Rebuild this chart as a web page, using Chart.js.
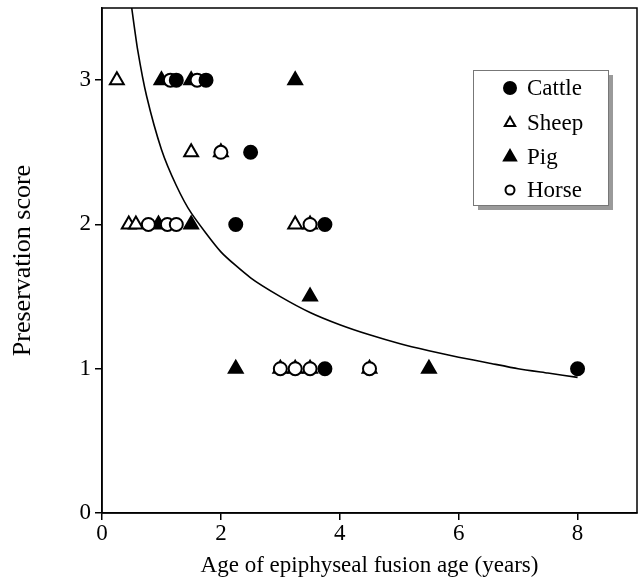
<!DOCTYPE html>
<html>
<head>
<meta charset="utf-8">
<script src="https://cdn.jsdelivr.net/npm/chart.js@4.4.0/dist/chart.umd.min.js"></script>
<style>
  html, body { margin: 0; padding: 0; background: #fff; }
  #wrap { width: 641px; height: 582px; }
</style>
</head>
<body>
<div id="wrap"><canvas id="fusionChart" width="641" height="582"></canvas></div>
<script>
// series (x = fusion age in years, y = preservation score)
const cattleX = [1.25, 1.75, 2.5, 2.25, 3.75, 3.75, 8];
const cattleY = [3, 3, 2.5, 2, 2, 1, 1];
const sheepX = [0.25, 1.5, 2, 0.45, 0.57, 3.25, 3.5, 3, 3.25, 3.5, 4.5];
const sheepY = [3, 2.5, 2.5, 2, 2, 2, 2, 1, 1, 1, 1];
const pigX = [1, 1.5, 3.25, 0.95, 1.5, 3.5, 2.25, 5.5];
const pigY = [3, 3, 3, 2, 2, 1.5, 1, 1];
const horseX = [1.15, 1.6, 2, 0.78, 1.1, 1.25, 3.5, 3, 3.25, 3.5, 4.5];
const horseY = [3, 3, 2.5, 2, 2, 2, 2, 1, 1, 1, 1];
// fitted curve
const fitX = [0.5, 0.6, 0.75, 1, 1.25, 1.5, 2, 2.5, 3, 3.5, 4, 4.5, 5, 5.5, 6, 6.5, 7, 7.5, 8];
const fitY = [3.5, 3.21, 2.89, 2.52, 2.27, 2.08, 1.81, 1.63, 1.5, 1.39, 1.305, 1.235, 1.175, 1.125, 1.08, 1.04, 1.0, 0.97, 0.94];
const xTicks = [0, 2, 4, 6, 8];
const yTicks = [0, 1, 2, 3];

const serif = "'Liberation Serif', 'DejaVu Serif', serif";

function toPoints(xs, ys) {
    return xs.map(function(x, i) { return { x: x, y: ys[i] }; });
}

const legendItems = [
    { label: 'Cattle', style: 'circle', radius: 6, fill: '#000' },
    { label: 'Sheep', style: 'triangle', radius: 6, fill: '#fff' },
    { label: 'Pig', style: 'triangle', radius: 7, fill: '#000' },
    { label: 'Horse', style: 'circle', radius: 4.5, fill: '#fff' }
];

// box around plot area + boxed legend with drop shadow
const framePlugin = {
    id: 'frame',
    afterDraw: function(chart) {
        const ctx = chart.ctx;
        const a = chart.chartArea;
        ctx.save();
        ctx.strokeStyle = '#000';
        ctx.lineWidth = 1.5;
        ctx.strokeRect(a.left, a.top, a.right - a.left, a.bottom - a.top);

        const bx = 473, by = 70, bw = 135, bh = 135;
        ctx.fillStyle = '#9a9a9a';
        ctx.fillRect(bx + 5, by + 5, bw, bh);
        ctx.fillStyle = '#fff';
        ctx.fillRect(bx, by, bw, bh);
        ctx.strokeStyle = '#777';
        ctx.lineWidth = 1;
        ctx.strokeRect(bx + 0.5, by + 0.5, bw, bh);

        ctx.font = '23px ' + serif;
        ctx.textBaseline = 'middle';
        ctx.textAlign = 'left';
        const rows = [88, 123, 157, 190];
        legendItems.forEach(function(item, i) {
            ctx.fillStyle = item.fill;
            ctx.strokeStyle = '#000';
            ctx.lineWidth = 2;
            Chart.helpers.drawPoint(ctx, {
                pointStyle: item.style,
                radius: item.radius,
                rotation: 0,
                borderWidth: 2
            }, 510, rows[i]);
            ctx.fillStyle = '#000';
            ctx.fillText(item.label, 527, rows[i] + 1);
        });
        ctx.restore();
    }
};

function scatterSet(label, xs, ys, style, fill, radius, order) {
    return {
        label: label,
        type: 'scatter',
        data: toPoints(xs, ys),
        pointStyle: style,
        pointRadius: radius,
        pointHoverRadius: radius,
        pointBackgroundColor: fill,
        pointBorderColor: '#000',
        pointBorderWidth: 2,
        order: order
    };
}

// keep Chart.js from reserving room for half tick labels at the ends
function noEdgePadding(scale) {
    scale.paddingTop = 0;
    scale.paddingBottom = 0;
    scale.paddingLeft = 0;
    scale.paddingRight = 0;
}

const ctx = document.getElementById('fusionChart').getContext('2d');
const chart = new Chart(ctx, {
    type: 'scatter',
    data: {
        datasets: [
            scatterSet('Cattle', cattleX, cattleY, 'circle', '#000', 6.5, 0),
            scatterSet('Horse', horseX, horseY, 'circle', '#fff', 6.5, 1),
            scatterSet('Pig', pigX, pigY, 'triangle', '#000', 8, 2),
            scatterSet('Sheep', sheepX, sheepY, 'triangle', '#fff', 8, 3),
            {
                label: 'Fit',
                type: 'line',
                data: toPoints(fitX, fitY),
                borderColor: '#000',
                borderWidth: 1.6,
                pointRadius: 0,
                fill: false,
                tension: 0.2,
                order: 4
            }
        ]
    },
    options: {
        responsive: false,
        animation: false,
        layout: { autoPadding: false, padding: { top: 8, right: 4, left: 0, bottom: 0 } },
        plugins: {
            legend: { display: false },
            tooltip: { enabled: false }
        },
        scales: {
            x: {
                type: 'linear',
                min: 0,
                max: 9,
                afterBuildTicks: function(scale) {
                    scale.ticks = xTicks.map(function(v) { return { value: v }; });
                },
                afterFit: function(scale) { scale.height = 69; noEdgePadding(scale); },
                grid: { drawOnChartArea: false, drawTicks: true, tickLength: 7, color: '#000', lineWidth: 1.5 },
                border: { display: true, color: '#000', width: 1.5 },
                ticks: { color: '#000', font: { family: serif, size: 23 }, padding: 0, maxRotation: 0 },
                title: {
                    display: true,
                    text: 'Age of epiphyseal fusion age (years)',
                    color: '#000',
                    font: { family: serif, size: 23 },
                    padding: { top: 0, bottom: 2 }
                }
            },
            y: {
                type: 'linear',
                min: 0,
                max: 3.5,
                afterBuildTicks: function(scale) {
                    scale.ticks = yTicks.map(function(v) { return { value: v }; });
                },
                afterFit: function(scale) { scale.width = 102; noEdgePadding(scale); },
                grid: { drawOnChartArea: false, drawTicks: true, tickLength: 7, color: '#000', lineWidth: 1.5 },
                border: { display: true, color: '#000', width: 1.5 },
                ticks: { color: '#000', font: { family: serif, size: 23 }, padding: 4 },
                title: {
                    display: true,
                    text: 'Preservation score',
                    color: '#000',
                    font: { family: serif, size: 26 },
                    padding: { top: 8, bottom: 0 }
                }
            }
        }
    },
    plugins: [framePlugin]
});
</script>
</body>
</html>
